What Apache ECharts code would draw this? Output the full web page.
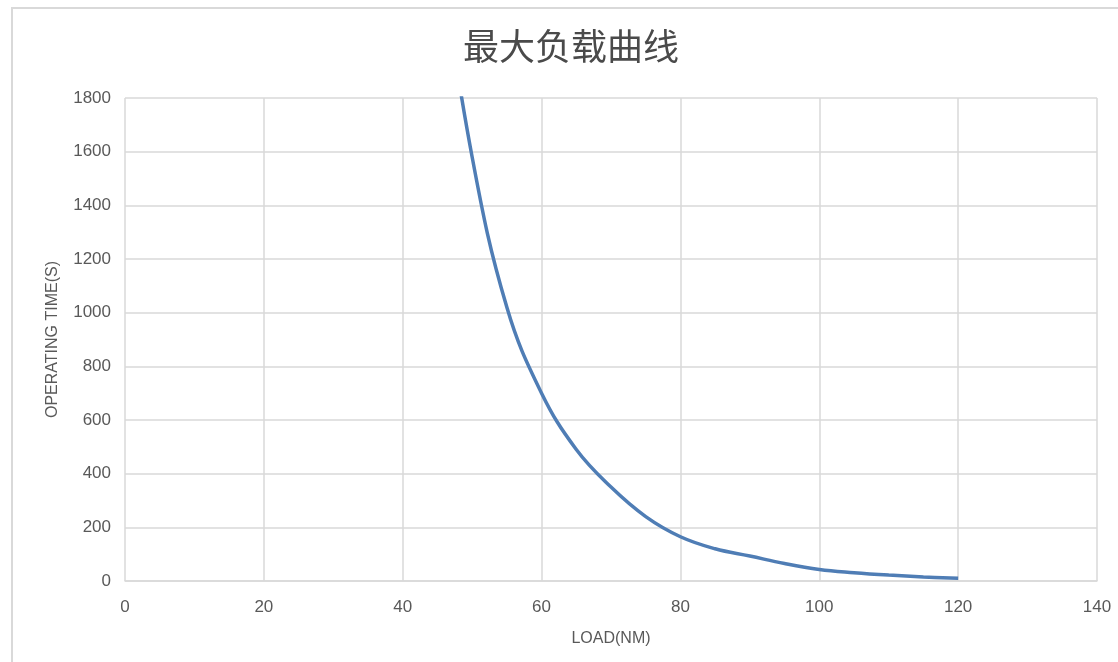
<!DOCTYPE html>
<html>
<head>
<meta charset="utf-8">
<script src="https://cdn.jsdelivr.net/npm/echarts@6/dist/echarts.min.js"></script>
<style>
html,body{margin:0;padding:0;background:#fff;}
#chart{width:1118px;height:662px;}
</style>
</head>
<body>
<div id="chart"></div>
<script>
var titleText = '最大负载曲线';
var xAxisName = 'LOAD(NM)';
var yAxisName = 'OPERATING TIME(S)';
var loads = [45, 50, 55, 60, 65, 70, 75, 80, 85, 90, 95, 100, 105, 110, 115, 120];
var times = [2400, 1580, 1020, 700, 490, 350, 240, 165, 120, 93, 65, 43, 31, 22, 15, 10];

var chart = echarts.init(document.getElementById('chart'));
var data = loads.map(function (x, i) { return [x, times[i]]; });
var labelFont = 'Liberation Sans, sans-serif';
chart.setOption({
  animation: false,
  backgroundColor: '#fff',
  graphic: [{
    type: 'rect',
    shape: {x: 12, y: 8, width: 1120, height: 670},
    style: {fill: 'none', stroke: '#d9d9d9', lineWidth: 2},
    silent: true
  }],
  title: {
    text: titleText,
    left: 458,
    top: 23,
    textStyle: {
      fontFamily: 'Noto Sans CJK SC',
      fontSize: 36,
      fontWeight: 'normal',
      color: '#4a4a4a'
    }
  },
  grid: {left: 125, right: 21, top: 98, bottom: 81, containLabel: false},
  xAxis: {
    type: 'value',
    min: 0, max: 140, interval: 20,
    name: xAxisName,
    nameLocation: 'middle',
    nameGap: 50,
    nameTextStyle: {color: '#595959', fontSize: 16, fontFamily: labelFont},
    axisLine: {show: true, lineStyle: {color: '#d9d9d9', width: 1.5}},
    axisTick: {show: false},
    axisLabel: {color: '#595959', fontSize: 17, margin: 18, fontFamily: labelFont},
    splitLine: {show: true, lineStyle: {color: '#d9d9d9', width: 1.5}}
  },
  yAxis: {
    type: 'value',
    min: 0, max: 1800, interval: 200,
    name: yAxisName,
    nameLocation: 'middle',
    nameGap: 64,
    nameTextStyle: {color: '#595959', fontSize: 16, fontFamily: labelFont},
    axisLine: {show: false},
    axisTick: {show: false},
    axisLabel: {
      color: '#595959', fontSize: 17, margin: 14, fontFamily: labelFont,
      formatter: function (v) { return String(v); }
    },
    splitLine: {show: true, lineStyle: {color: '#d9d9d9', width: 1.5}}
  },
  series: [{
    type: 'line',
    data: data,
    smooth: 0.4,
    symbol: 'none',
    clip: true,
    lineStyle: {color: '#4f7db5', width: 3.5}
  }]
});
</script>
</body>
</html>
